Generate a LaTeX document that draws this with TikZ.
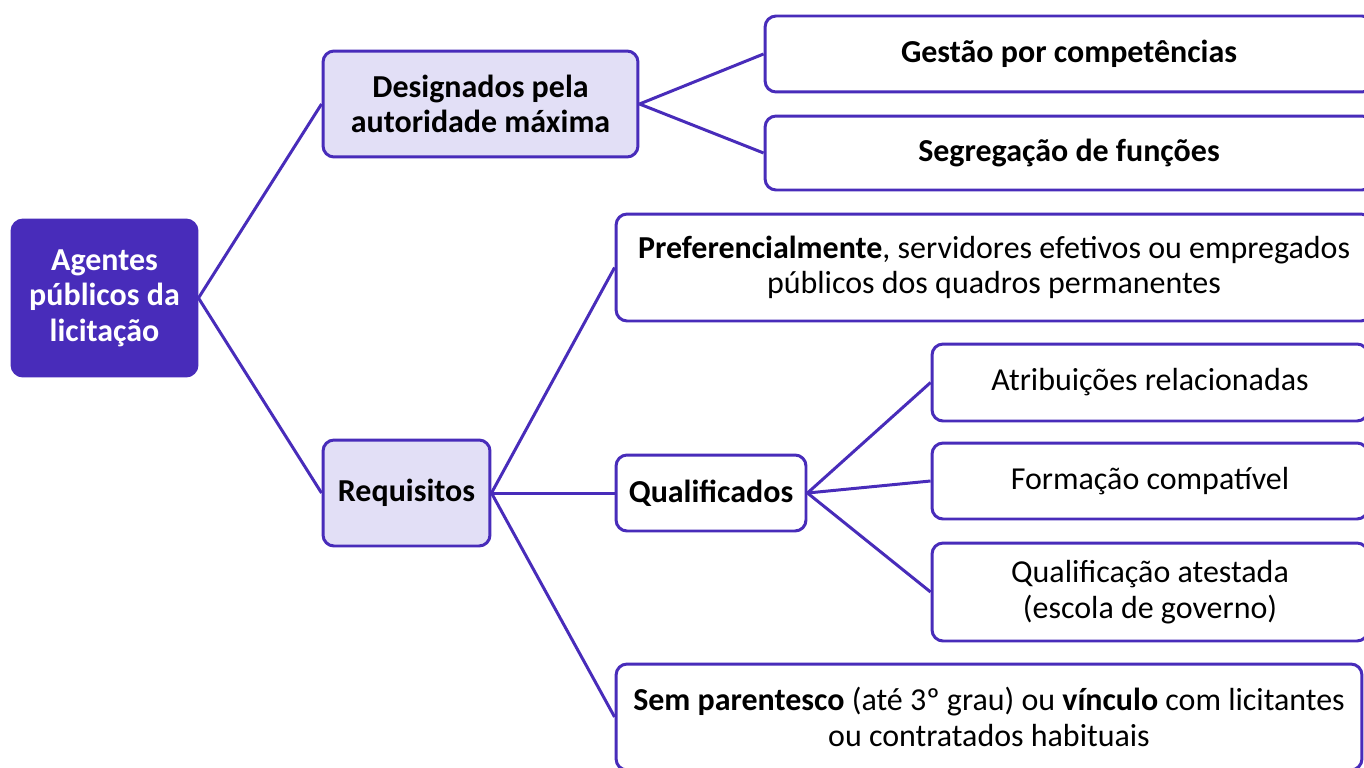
\documentclass[tikz,border=0pt]{standalone}
\usepackage{fontspec}
\setmainfont{Carlito}
\usetikzlibrary{backgrounds}
\definecolor{roxo}{RGB}{72,44,186}
\definecolor{lilas}{RGB}{226,223,246}
\newcommand{\caixafont}{\fontsize{18.2}{20.3}\selectfont}

\begin{document}
\begin{tikzpicture}[
    x=0.02cm, y=-0.02cm,
    show background rectangle,
    tight background=0,
    background rectangle/.style={fill=white},
    caixa/.style={draw=roxo, line width=1.7pt, rounded corners=0.22cm,
        fill=white, align=center, inner sep=0pt, font=\caixafont},
    nivel/.style={caixa, fill=lilas, font=\caixafont\bfseries},
    raiz/.style={caixa, fill=roxo, text=white, font=\caixafont\bfseries},
    ramo/.style={draw=roxo, line width=1.7pt},
 ]
    \useasboundingbox (0,0) rectangle (1364,767);
    \clip (0,0) rectangle (1364,767);

    \node[raiz, minimum width=3.7cm, minimum height=3.12cm] (agentes) at (104.5,298)
        {Agentes\\públicos da\\licitação};

    \node[nivel, minimum width=6.3cm, minimum height=2.12cm] (designados) at (480.5,104)
        {Designados pela\\autoridade máxima};
    \node[nivel, minimum width=3.34cm, minimum height=2.12cm] (requisitos) at (406.5,493)
        {Requisitos};

    \node[caixa, minimum width=12.16cm, minimum height=1.52cm, font=\caixafont\bfseries] (gestao) at (1069,54)
        {Gestão por competências};
    \node[caixa, minimum width=12.16cm, minimum height=1.48cm, font=\caixafont\bfseries] (segregacao) at (1069,153)
        {Segregação de funções};

    \node[caixa, minimum width=15.12cm, minimum height=2.14cm] (preferencia) at (994,267.5)
        {\textbf{Preferencialmente}, servidores efetivos ou empregados\\públicos dos quadros permanentes};
    \node[caixa, minimum width=3.8cm, minimum height=1.52cm, font=\caixafont\bfseries] (qualificados) at (711,493)
        {Qualificados};
    \node[caixa, minimum width=14.92cm, minimum height=2.12cm] (parentesco) at (989,717)
        {\textbf{Sem parentesco} (até 3º grau) ou \textbf{vínculo} com licitantes\\ou contratados habituais};

    \node[caixa, minimum width=8.72cm, minimum height=1.54cm] (atribuicoes) at (1150,382.5)
        {Atribuições relacionadas};
    \node[caixa, minimum width=8.72cm, minimum height=1.52cm] (formacao) at (1150,481)
        {Formação compatível};
    \node[caixa, minimum width=8.72cm, minimum height=1.96cm] (atestada) at (1150,592)
        {Qualificação atestada\\(escola de governo)};

    \draw[ramo] (agentes.east) -- (designados.west);
    \draw[ramo] (agentes.east) -- (requisitos.west);
    \draw[ramo] (designados.east) -- (gestao.west);
    \draw[ramo] (designados.east) -- (segregacao.west);
    \draw[ramo] (requisitos.east) -- (preferencia.west);
    \draw[ramo] (requisitos.east) -- (qualificados.west);
    \draw[ramo] (requisitos.east) -- (parentesco.west);
    \draw[ramo] (qualificados.east) -- (atribuicoes.west);
    \draw[ramo] (qualificados.east) -- (formacao.west);
    \draw[ramo] (qualificados.east) -- (atestada.west);

\end{tikzpicture}
\end{document}
